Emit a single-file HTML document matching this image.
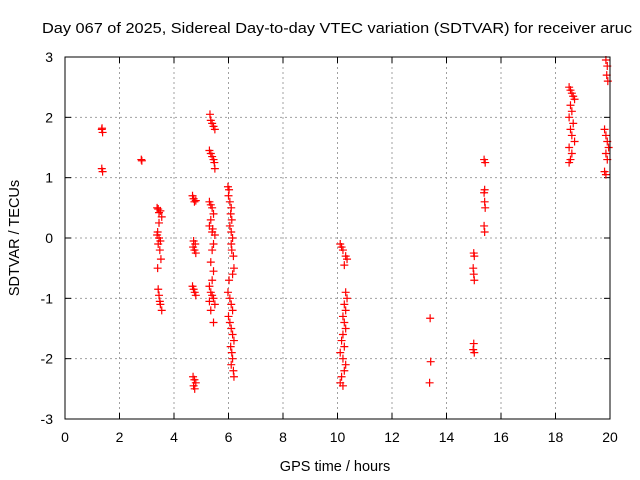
<!DOCTYPE html>
<html><head><meta charset="utf-8"><style>
body{margin:0;background:#fff;}
svg{display:block;font-family:"Liberation Sans",sans-serif;}
</style></head><body>
<svg id="c" width="640" height="480">
<text x="42" y="33" font-size="14.5" textLength="590" lengthAdjust="spacingAndGlyphs">Day 067 of 2025, Sidereal Day-to-day VTEC variation (SDTVAR) for receiver aruc</text>
<g id="grid"></g><g id="ticks"></g>
<g id="pts" clip-path="url(#cp)"></g>
<clipPath id="cp"><rect x="60" y="52" width="560" height="372"/></clipPath>
<rect x="65" y="57" width="545" height="362" fill="none" stroke="#000"/>
<text x="335" y="471" font-size="14.5" text-anchor="middle">GPS time / hours</text>
<text transform="translate(19,238) rotate(-90)" font-size="14.5" text-anchor="middle">SDTVAR / TECUs</text>
</svg>
<script>
const xTicks=[0,2,4,6,8,10,12,14,16,18,20];
const yTicks=[-3,-2,-1,0,1,2,3];
const times=[1.35,1.38,1.36,1.35,1.38, 2.8,2.82,
3.38,3.42,3.5,3.45,3.55,3.45,3.4,3.38,3.45,3.5,3.42,3.48,3.52,3.4,3.42,3.45,3.48,3.5,3.55,
4.68,4.72,4.75,4.8,4.72,4.78,4.7,4.75,4.8,4.68,4.72,4.76,4.8,4.7,4.75,4.8,4.72,4.76,
5.32,5.35,5.4,5.45,5.5,5.3,5.35,5.4,5.45,5.48,5.5,5.3,5.35,5.4,5.45,5.35,5.3,5.42,5.4,5.5,5.45,5.4,5.35,5.45,5.4,5.3,5.35,5.4,5.45,5.3,5.5,5.35,5.45,
5.98,6.02,6.0,6.05,6.1,6.08,6.12,6.05,6.1,6.15,6.1,6.12,6.18,6.2,6.15,6.02,5.98,6.05,6.1,6.15,6.0,6.05,6.1,6.15,6.2,6.08,6.12,6.15,6.1,6.18,6.2,
10.1,10.15,10.2,10.3,10.35,10.25,10.3,10.35,10.25,10.3,10.2,10.25,10.3,10.2,10.15,10.25,10.1,10.2,10.3,10.25,10.15,10.1,10.2,
13.4,13.42,13.38,
15.0,15.02,14.98,15.0,15.02,15.0,14.98,15.02,
15.38,15.42,15.4,15.38,15.4,15.42,15.38,15.4,
18.5,18.55,18.6,18.65,18.7,18.55,18.6,18.5,18.65,18.55,18.6,18.7,18.5,18.6,18.55,18.5,
19.85,19.9,19.88,19.92,19.8,19.85,19.9,19.95,19.85,19.9,19.8,19.85];
const values=[1.8,1.75,1.82,1.15,1.1, 1.3,1.28,
0.5,0.48,0.45,0.42,0.35,0.25,0.1,0.05,0,-0.05,-0.1,-0.2,-0.35,-0.5,-0.85,-0.95,-1.05,-1.1,-1.2,
0.7,0.65,0.6,0.62,-0.05,-0.1,-0.15,-0.2,-0.25,-0.8,-0.85,-0.9,-0.95,-2.3,-2.35,-2.4,-2.45,-2.5,
2.05,1.95,1.9,1.85,1.8,1.45,1.4,1.35,1.3,1.25,1.15,0.6,0.55,0.5,0.4,0.3,0.2,0.15,0.1,0.05,-0.1,-0.2,-0.4,-0.55,-0.7,-0.8,-0.9,-0.95,-1,-1.05,-1.1,-1.2,-1.4,
0.85,0.8,0.7,0.6,0.5,0.4,0.3,0.2,0.1,0,-0.1,-0.2,-0.3,-0.5,-0.6,-0.7,-0.9,-1,-1.1,-1.2,-1.3,-1.4,-1.5,-1.6,-1.7,-1.8,-1.9,-2,-2.1,-2.2,-2.3,
-0.1,-0.15,-0.2,-0.3,-0.35,-0.45,-0.9,-1,-1.1,-1.2,-1.3,-1.4,-1.5,-1.6,-1.7,-1.8,-1.9,-2,-2.1,-2.2,-2.3,-2.4,-2.45,
-1.33,-2.05,-2.4,
-0.25,-0.3,-0.5,-0.6,-0.7,-1.75,-1.85,-1.9,
1.3,1.25,0.8,0.75,0.6,0.5,0.2,0.1,
2.5,2.45,2.4,2.35,2.3,2.2,2.1,2,1.9,1.8,1.7,1.6,1.5,1.4,1.3,1.25,
2.95,2.85,2.7,2.6,1.8,1.7,1.6,1.5,1.4,1.3,1.1,1.05];
const X=v=>65+v*545/20, Y=v=>238-v*362/6;
const NS="http://www.w3.org/2000/svg";
const mk=(t,a)=>{const e=document.createElementNS(NS,t);for(const k in a)e.setAttribute(k,a[k]);return e;};
const grid=document.getElementById('grid'),ticks=document.getElementById('ticks'),pts=document.getElementById('pts');
xTicks.forEach(t=>{const x=X(t);
 if(t>0&&t<20){const l=mk('line',{x1:x,x2:x,y1:57,y2:419,stroke:'#a0a0a0','stroke-dasharray':'2,3'});
 
 grid.appendChild(l);}
 ticks.appendChild(mk('line',{x1:x,x2:x,y1:419,y2:413,stroke:'#000'}));
 ticks.appendChild(mk('line',{x1:x,x2:x,y1:57,y2:63,stroke:'#000'}));
 const s=mk('text',{x:x,y:442,'font-size':14,'text-anchor':'middle'});s.textContent=t;
 
 ticks.appendChild(s);});
yTicks.forEach(t=>{const y=Y(t);
 if(t>-3&&t<3){const l=mk('line',{x1:65,x2:610,y1:y,y2:y,stroke:'#a0a0a0','stroke-dasharray':'2,3'});
 
 grid.appendChild(l);}
 ticks.appendChild(mk('line',{x1:65,x2:71,y1:y,y2:y,stroke:'#000'}));
 ticks.appendChild(mk('line',{x1:610,x2:604,y1:y,y2:y,stroke:'#000'}));
 const s=mk('text',{x:53,y:y+5,'font-size':14,'text-anchor':'end'});s.textContent=t;
 
 ticks.appendChild(s);});
times.forEach((t,i)=>{const x=X(t),y=Y(values[i]);
 const p=mk('path',{d:`M${x-4},${y}h8M${x},${y-4}v8`,stroke:'#f00','stroke-width':1.2});
 
 pts.appendChild(p);});
</script>
</body></html>
